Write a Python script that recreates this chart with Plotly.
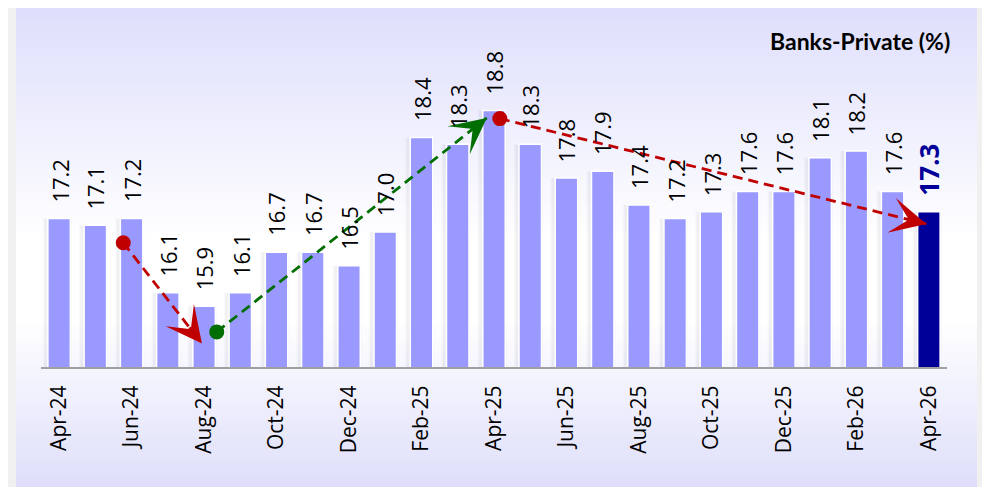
import math
import plotly.graph_objects as go

# ---------------- data ----------------
months = ["Apr-24", "May-24", "Jun-24", "Jul-24", "Aug-24", "Sep-24", "Oct-24", "Nov-24",
          "Dec-24", "Jan-25", "Feb-25", "Mar-25", "Apr-25", "May-25", "Jun-25", "Jul-25",
          "Aug-25", "Sep-25", "Oct-25", "Nov-25", "Dec-25", "Jan-26", "Feb-26", "Mar-26",
          "Apr-26"]
values = [17.2, 17.1, 17.2, 16.1, 15.9, 16.1, 16.7, 16.7, 16.5, 17.0, 18.4, 18.3, 18.8,
          18.3, 17.8, 17.9, 17.4, 17.2, 17.3, 17.6, 17.6, 18.1, 18.2, 17.6, 17.3]
title_text = "Banks-Private (%)"

# trend arrows (in category-index / value units)
arrow_x0 = [1.77, 4.35, 12.16]
arrow_y0 = [16.84, 15.52, 18.68]
arrow_x1 = [3.94, 11.80, 23.93]
arrow_y1 = [15.35, 18.69, 17.12]
arrow_colors = ["#C00000", "#006E00", "#C00000"]

# ---------------- layout helpers ----------------
# the page body has an 8px margin, so the figure is drawn 8px in from the window edge
OFF = 8
SW, SH = 990, 487
W, H = SW - OFF, SH - OFF

PLOT_L, PLOT_R, PLOT_T, PLOT_B = 41, 947, 29.5, 367
Y_RANGE = [15, 20]


def px(x):
    return (x - OFF) / W


def py(y):
    return 1 - (y - OFF) / H


xs = list(range(len(values)))
bar_colors = ["#9999FF"] * (len(values) - 1) + ["#000099"]
x_unit = (PLOT_R - PLOT_L) / len(values)
y_unit = (PLOT_B - PLOT_T) / (Y_RANGE[1] - Y_RANGE[0])

fig = go.Figure()

# soft shadows behind bars
for w, a in [(0.80, 0.035), (0.72, 0.05)]:
    fig.add_trace(go.Bar(
        x=xs, y=values, width=w, offset=-w / 2 - 0.05,
        marker=dict(color=f"rgba(90,90,110,{a})", line=dict(width=0)),
        hoverinfo="skip", showlegend=False))

fig.add_trace(go.Bar(
    x=xs, y=values, width=0.62,
    marker=dict(color=bar_colors, line=dict(color="white", width=1.5)),
    hoverinfo="skip", showlegend=False))

# trend arrows: dashed body + start dot + arrowhead
annotations = []
for x0, y0, x1, y1, c in zip(arrow_x0, arrow_y0, arrow_x1, arrow_y1, arrow_colors):
    fig.add_trace(go.Scatter(
        x=[x0, x1], y=[y0, y1], mode="lines",
        line=dict(color=c, width=2.8, dash="10px,6px"),
        hoverinfo="skip", showlegend=False))
    fig.add_trace(go.Scatter(
        x=[x0], y=[y0], mode="markers",
        marker=dict(color=c, size=15, line=dict(width=0)),
        hoverinfo="skip", showlegend=False))
    seg_px = math.hypot((x1 - x0) * x_unit, (y1 - y0) * y_unit)
    f = 22 / seg_px
    annotations.append(dict(
        x=x1, y=y1, ax=x1 - (x1 - x0) * f, ay=y1 - (y1 - y0) * f,
        xref="x", yref="y", axref="x", ayref="y",
        text="", showarrow=True, arrowhead=3, arrowsize=2.3, arrowwidth=2.6,
        arrowcolor=c, standoff=0))

# value labels
for i, v in enumerate(values):
    last = i == len(values) - 1
    annotations.append(dict(
        x=i, y=v, xref="x", yref="y", text=f"{v:.1f}",
        textangle=-90, showarrow=False, xanchor="center", yanchor="bottom",
        yshift=14,
        font=dict(family="Open Sans", size=26 if last else 22,
                  color="#000099" if last else "#000000",
                  weight="bold" if last else "normal")))

# title
annotations.append(dict(
    x=px(952), y=py(41), xref="paper", yref="paper", text=f"<b>{title_text}</b>",
    showarrow=False, xanchor="right", yanchor="middle",
    font=dict(family="Lato", size=23, color="#000000")))

# background: frame shadow + vertical gradient panel
shapes = [dict(type="rect", xref="paper", yref="paper", layer="below",
               x0=0, x1=1, y0=0, y1=1, fillcolor="#F0F0F0", line=dict(width=0))]
stops = [(7, (222, 222, 252)), (240, (255, 255, 255)), (320, (255, 255, 255)),
         (487, (222, 222, 250))]


def col_at(y):
    for (ya, ca), (yb, cb) in zip(stops[:-1], stops[1:]):
        if ya <= y <= yb:
            t = (y - ya) / (yb - ya)
            return tuple(round(ca[k] + (cb[k] - ca[k]) * t) for k in range(3))
    return stops[-1][1]


step = 4
y = 7
while y < 487:
    c = col_at(y + step / 2)
    shapes.append(dict(type="rect", xref="paper", yref="paper", layer="below",
                       x0=px(16), x1=px(977), y0=py(min(y + step + 0.5, 487)), y1=py(y),
                       fillcolor=f"rgb({c[0]},{c[1]},{c[2]})", line=dict(width=0)))
    y += step

fig.update_layout(
    width=W, height=H,
    margin=dict(l=0, r=0, t=0, b=0),
    paper_bgcolor="white", plot_bgcolor="rgba(0,0,0,0)",
    barmode="overlay", showlegend=False,
    shapes=shapes, annotations=annotations,
    xaxis=dict(domain=[px(PLOT_L), px(PLOT_R)], range=[-0.5, len(values) - 0.5],
               tickvals=xs[::2], ticktext=months[::2], tickangle=-90,
               tickfont=dict(family="Open Sans", size=21, color="#000000"),
               showline=True, linecolor="#A0A0A0", linewidth=2,
               ticks="", showgrid=False, zeroline=False, automargin=False,
               ticklabelstandoff=8, fixedrange=True),
    yaxis=dict(domain=[py(PLOT_B), py(PLOT_T)], range=Y_RANGE, visible=False,
               fixedrange=True, automargin=False),
)

fig.write_html("out.html")
